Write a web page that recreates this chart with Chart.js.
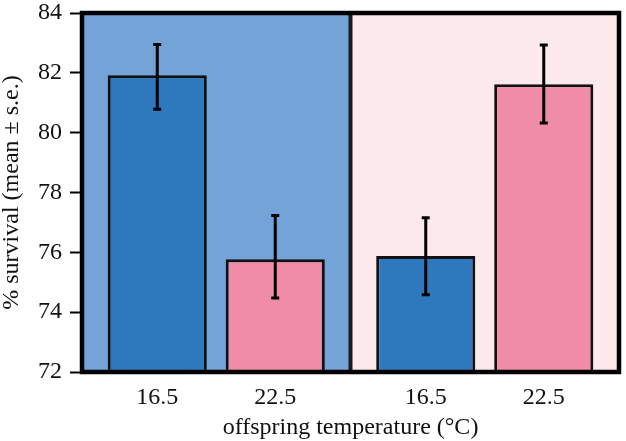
<!DOCTYPE html>
<html>
<head>
<meta charset="utf-8">
<script src="https://cdn.jsdelivr.net/npm/chart.js@4"></script>
<style>
  html, body { margin: 0; padding: 0; background: #fff; }
  #wrap { position: relative; width: 626px; height: 441px; }
</style>
</head>
<body>
<div id="wrap"><canvas id="c"></canvas></div>
<script>
// parental panels (left = cool, right = warm), bars = offspring temperature
const panels = ['cool', 'warm'];
const offspringTemps = ['16.5', '22.5'];

const mean165 = [81.92, 75.88];
const upper165 = [82.95, 77.16];
const lower165 = [80.78, 74.58];

const mean225 = [75.77, 81.62];
const upper225 = [77.23, 82.93];
const lower225 = [74.47, 80.32];

const yTicks = [72, 74, 76, 78, 80, 82, 84];

const FONT = '"Liberation Serif", "DejaVu Serif", serif';
const panelColors = ['#74a3d8', '#fbe9eb'];

const errors = [
  { upper: upper165, lower: lower165 },
  { upper: upper225, lower: lower225 }
];

const panelPlugin = {
  id: 'panels',
  beforeDatasetsDraw(chart) {
    const { ctx, chartArea: a, scales: { x } } = chart;
    const mid = (x.getPixelForValue(0) + x.getPixelForValue(1)) / 2;
    ctx.save();
    ctx.fillStyle = panelColors[0];
    ctx.fillRect(a.left, a.top, mid - a.left, a.bottom - a.top);
    ctx.fillStyle = panelColors[1];
    ctx.fillRect(mid, a.top, a.right - mid, a.bottom - a.top);
    ctx.restore();
  },
  afterDatasetsDraw(chart) {
    const { ctx, chartArea: a, scales: { x, y } } = chart;
    ctx.save();
    // error bars
    ctx.strokeStyle = '#000';
    ctx.lineWidth = 3;
    chart.data.datasets.forEach((ds, di) => {
      const meta = chart.getDatasetMeta(di);
      meta.data.forEach((bar, i) => {
        const yt = y.getPixelForValue(errors[di].upper[i]);
        const yb = y.getPixelForValue(errors[di].lower[i]);
        ctx.beginPath();
        ctx.moveTo(bar.x, yt); ctx.lineTo(bar.x, yb);
        ctx.moveTo(bar.x - 4, yt); ctx.lineTo(bar.x + 4, yt);
        ctx.moveTo(bar.x - 4, yb); ctx.lineTo(bar.x + 4, yb);
        ctx.stroke();
      });
    });
    // divider and frame
    const mid = (x.getPixelForValue(0) + x.getPixelForValue(1)) / 2;
    ctx.strokeStyle = '#1a1a1a';
    ctx.lineWidth = 4;
    ctx.beginPath();
    ctx.moveTo(mid, a.top); ctx.lineTo(mid, a.bottom);
    ctx.stroke();
    ctx.strokeStyle = '#000';
    ctx.lineWidth = 4.5;
    ctx.strokeRect(a.left, a.top, a.right - a.left, a.bottom - a.top);
    // x labels under each bar
    ctx.fillStyle = '#111';
    ctx.font = '24px ' + FONT;
    ctx.textAlign = 'center';
    ctx.textBaseline = 'alphabetic';
    chart.data.datasets.forEach((ds, di) => {
      chart.getDatasetMeta(di).data.forEach(bar => {
        ctx.fillText(ds.label, bar.x, 404);
      });
    });
    ctx.fillText('offspring temperature (°C)', (a.left + a.right) / 2, 434);
    ctx.restore();
  }
};

new Chart(document.getElementById('c'), {
  type: 'bar',
  data: {
    labels: panels,
    datasets: [
      { label: offspringTemps[0], data: mean165, backgroundColor: '#2e79bd' },
      { label: offspringTemps[1], data: mean225, backgroundColor: '#f08ca7' }
    ]
  },
  options: {
    responsive: true,
    maintainAspectRatio: false,
    animation: false,
    layout: { padding: { top: 13, right: 7, bottom: 69, left: 0 } },
    datasets: {
      bar: {
        borderColor: '#111',
        borderWidth: 3,
        categoryPercentage: 0.879,
        barPercentage: 0.84
      }
    },
    plugins: { legend: { display: false }, tooltip: { enabled: false } },
    scales: {
      x: { display: false },
      y: {
        min: 72,
        max: 84,
        afterFit(scale) {
          scale.width = 82;
          scale.paddingTop = 0;
          scale.paddingBottom = 0;
        },
        afterBuildTicks(scale) { scale.ticks = yTicks.map(v => ({ value: v })); },
        border: { display: false },
        grid: {
          drawOnChartArea: false,
          drawTicks: true,
          tickLength: 12,
          tickWidth: 2,
          tickColor: '#000'
        },
        ticks: {
          color: '#111',
          padding: 8,
          font: { family: FONT, size: 24 }
        },
        title: {
          display: true,
          text: '% survival (mean ± s.e.)',
          color: '#111',
          padding: { top: 0, bottom: 0 },
          font: { family: FONT, size: 24, lineHeight: 1 }
        }
      }
    }
  },
  plugins: [panelPlugin]
});
</script>
</body>
</html>
